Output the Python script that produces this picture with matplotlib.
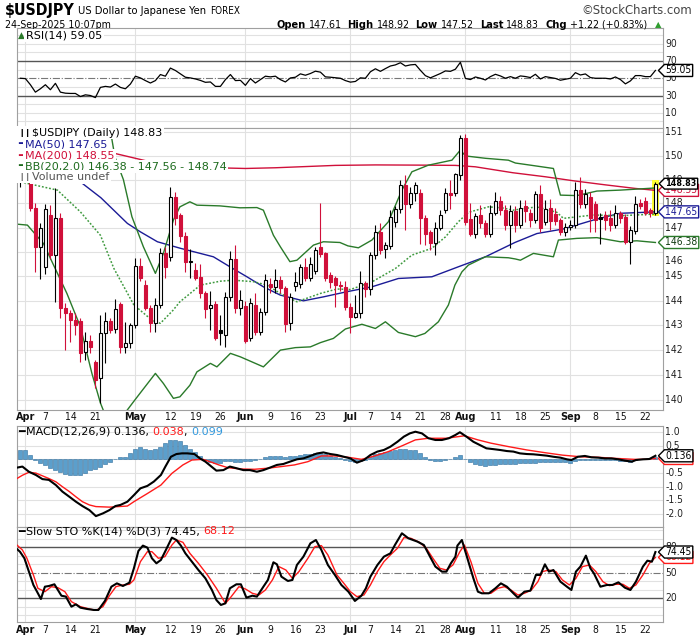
import os
import numpy as np
import pandas as pd
import matplotlib
matplotlib.use('Agg')
import matplotlib.pyplot as plt
from matplotlib.path import Path
from matplotlib import font_manager
from matplotlib.font_manager import FontProperties
import matplotlib.transforms as mtransforms

# ------------------------------------------------------------------ data
days = pd.bdate_range('2025-03-31', '2025-09-24')   # trading days, day -1 = Mar 31
day_num = np.arange(len(days)) - 1

opens = [149.50, 149.90, 149.30, 147.83, 146.21, 145.38, 147.51, 145.86, 147.38, 143.71,
         143.48, 143.21, 143.17, 141.91, 142.36, 141.53, 140.87, 142.67, 143.17, 142.85,
         143.86, 142.13, 142.27, 143.01, 145.42, 144.63, 143.71, 143.08, 143.84, 145.93,
         145.79, 148.28, 147.50, 146.64, 145.58, 145.25, 144.96, 144.29, 143.68, 143.86,
         142.79, 142.59, 144.13, 145.70, 143.71, 143.78, 142.50, 143.82, 142.72, 143.52,
         144.68, 144.56, 144.84, 144.50, 143.08, 144.60, 144.68, 145.38, 144.93, 145.21,
         146.21, 145.93, 145.05, 144.90, 144.62, 144.55, 143.75, 143.35, 143.48, 144.70,
         144.47, 145.86, 146.82, 146.11, 146.22, 147.24, 147.75, 148.77, 147.96, 148.42,
         148.42, 147.38, 146.80, 146.34, 146.99, 147.72, 148.44, 148.42, 149.19, 150.77,
         147.34, 146.75, 147.51, 147.17, 146.75, 147.62, 148.11, 147.72, 147.10, 147.68,
         147.10, 147.89, 147.60, 147.31, 148.38, 147.24, 147.82, 147.58, 147.30, 146.82,
         147.01, 147.10, 148.56, 147.97, 148.28, 147.97, 147.42, 147.50, 147.40, 147.10,
         147.62, 147.45, 146.40, 146.85, 148.00, 148.10, 147.72, 147.61]
highs = [150.00, 150.00, 149.50, 148.00, 147.20, 147.97, 147.95, 148.63, 147.60, 143.90,
         143.60, 143.50, 143.30, 142.74, 142.60, 141.60, 143.40, 143.55, 143.30, 144.06,
         143.95, 143.15, 143.10, 145.72, 145.72, 144.85, 143.80, 144.10, 146.16, 146.20,
         148.70, 148.50, 147.60, 146.80, 146.11, 145.52, 145.48, 144.40, 144.40, 144.00,
         143.40, 144.35, 146.03, 146.27, 144.43, 144.00, 144.09, 144.29, 143.70, 145.08,
         144.90, 145.29, 145.00, 144.60, 144.30, 145.18, 145.50, 145.72, 145.80, 146.21,
         148.00, 146.00, 145.18, 145.00, 144.80, 144.80, 143.90, 144.24, 145.22, 144.80,
         146.00, 147.12, 147.17, 146.40, 147.72, 147.90, 148.98, 149.19, 148.70, 148.90,
         148.60, 147.50, 146.90, 147.24, 147.72, 148.65, 148.98, 149.30, 150.89, 150.92,
         148.04, 147.60, 147.93, 147.30, 147.93, 148.49, 148.30, 147.93, 147.93, 147.90,
         148.14, 148.14, 147.79, 148.52, 148.77, 148.14, 148.18, 147.80, 147.40, 147.20,
         147.30, 148.91, 149.12, 148.60, 148.49, 148.10, 147.60, 147.70, 147.72, 147.95,
         147.70, 147.55, 147.05, 148.30, 148.20, 148.28, 147.80, 148.92]
lows = [148.70, 149.10, 147.68, 145.18, 144.88, 145.10, 145.70, 143.95, 143.28, 142.00,
        142.33, 142.60, 141.53, 141.60, 141.90, 140.47, 139.88, 141.50, 142.70, 142.70,
        141.87, 141.87, 142.10, 142.90, 144.80, 143.60, 142.74, 142.74, 143.70, 144.90,
        145.60, 147.10, 146.40, 145.18, 144.90, 144.85, 144.09, 143.28, 142.81, 142.40,
        142.20, 142.13, 144.00, 143.50, 143.41, 142.30, 142.35, 142.60, 142.60, 143.40,
        144.29, 144.30, 144.30, 142.74, 142.80, 144.40, 144.50, 144.80, 144.80, 145.10,
        145.80, 144.80, 144.50, 143.75, 144.40, 143.60, 142.67, 143.28, 143.30, 144.16,
        144.24, 145.70, 145.90, 145.72, 146.10, 147.03, 147.60, 146.89, 147.80, 148.10,
        146.30, 146.27, 146.07, 145.86, 146.90, 147.60, 147.79, 148.30, 149.00, 147.10,
        146.64, 146.55, 147.00, 146.60, 146.60, 147.50, 147.50, 146.90, 146.16, 146.82,
        147.00, 147.24, 147.03, 147.20, 146.82, 147.10, 146.90, 147.10, 146.68, 146.65,
        146.90, 147.00, 147.80, 147.80, 146.82, 146.82, 146.30, 146.90, 146.85, 147.00,
        147.20, 146.30, 145.50, 146.75, 147.75, 147.50, 147.45, 147.52]
closes = [149.90, 149.60, 147.82, 146.21, 146.96, 147.76, 145.86, 147.38, 143.71, 143.48,
          143.21, 143.01, 141.87, 142.36, 142.13, 140.80, 142.67, 143.17, 142.81, 143.66,
          142.13, 142.27, 143.01, 145.42, 144.90, 143.71, 143.08, 143.84, 145.93, 145.38,
          148.28, 147.38, 146.63, 145.56, 145.60, 144.93, 144.29, 143.66, 143.84, 142.50,
          142.67, 144.13, 145.70, 143.71, 144.02, 142.36, 143.91, 142.72, 143.52, 144.84,
          144.55, 144.85, 144.50, 143.05, 144.13, 144.75, 145.38, 144.93, 145.48, 146.07,
          145.89, 144.90, 144.75, 144.65, 144.58, 143.75, 143.35, 143.48, 144.70, 144.47,
          145.86, 146.82, 146.07, 146.27, 147.44, 147.75, 148.77, 147.96, 148.42, 148.77,
          147.38, 146.75, 146.34, 146.99, 147.54, 148.42, 148.35, 149.22, 150.77, 147.24,
          146.75, 147.49, 147.17, 146.75, 147.62, 148.11, 147.72, 147.10, 147.68, 147.10,
          147.83, 147.68, 147.31, 148.38, 146.96, 147.79, 147.28, 147.26, 146.82, 147.03,
          147.12, 148.56, 147.97, 148.38, 147.40, 147.33, 147.36, 147.30, 147.10, 147.62,
          147.38, 146.42, 146.90, 147.96, 147.88, 147.62, 147.61, 148.83]

ma50_day = [-1.5, 3, 7, 11.4, 15.1, 20.4, 23, 26.4, 31, 37.6, 40.9, 44.3, 47.6, 51, 55.6,
            59.6, 64.3, 69.3, 74.6, 81.3, 86.6, 92, 97.9, 102.3, 107.6, 113.6, 118.9, 126]
ma50_val = [151.25, 150.6, 149.8, 148.84, 148.24, 147.17, 146.82, 146.41, 146.14, 145.79,
            145.38, 144.97, 144.56, 144.22, 143.99, 144.15, 144.36, 144.56, 144.9, 144.97,
            145.38, 145.79, 146.38, 146.75, 146.94, 147.31, 147.59, 147.65]

ma200_day = [-1.7, 4.6, 10, 13.7, 18, 24.4, 31, 38, 44, 50, 56, 62, 70, 80, 86, 90, 97.5,
             104, 110, 116, 122, 126]
ma200_val = [151.9, 151.2, 150.75, 150.39, 150.1, 149.78, 149.68, 149.5, 149.47, 149.5,
             149.55, 149.6, 149.62, 149.61, 149.6, 149.54, 149.29, 149.12, 148.94, 148.78,
             148.63, 148.55]

bbu_day = [-1.7, 2, 6, 10, 14, 16, 16.9, 17.9, 19.6, 21.3, 23.6, 26, 27.6, 29.6, 30.9, 32.9,
           34.3, 38.9, 42.9, 46.3, 47.6, 49.6, 51, 52.9, 54.3, 57.6, 59.6, 62.9, 64.5, 66.6,
           69.3, 72.6, 75.3, 77.3, 80.6, 85.3, 87, 88, 92, 96.6, 98, 101, 105.6, 107, 110.3,
           114.3, 119, 126]
bbu_val = [150.9, 151.4, 152.3, 153.0, 153.0, 152.0, 151.2, 149.96, 149.0, 147.45, 146.2,
           145.11, 145.93, 147.31, 147.86, 148.07, 147.93, 147.9, 147.82, 147.83, 147.72,
           146.68, 146.2, 145.59, 145.65, 146.27, 146.41, 146.38, 146.24, 146.16, 146.48,
           147.24, 148.56, 149.33, 149.61, 149.82, 150.25, 150.0, 149.9, 149.82, 149.7,
           149.61, 149.47, 148.35, 148.33, 148.52, 148.56, 148.65]

bbm_day = [-1.7, 0.4, 6.4, 11, 15, 17.7, 21.7, 25.7, 27, 29.5, 30.9, 35, 39, 41.6, 45.6, 48.3,
           51, 54.3, 59, 62.3, 65, 69.3, 74, 77.3, 81.3, 84, 86.6, 88.6, 92.6, 95.3, 97.5,
           102.3, 106.3, 107.6, 113.6, 119, 126]
bbm_val = [148.95, 148.84, 148.56, 147.65, 146.68, 145.31, 143.82, 143.14, 143.08, 143.6,
           143.95, 144.63, 144.79, 144.83, 144.77, 144.63, 144.29, 143.95, 144.29, 144.47,
           144.45, 144.76, 145.31, 145.86, 146.14, 146.61, 147.24, 147.63, 147.86, 147.82,
           147.72, 147.86, 147.63, 147.38, 147.52, 147.49, 147.56]

bbl_day = [-1.7, 0.4, 3.6, 8.3, 11, 13.3, 15, 16, 17.5, 19, 20.3, 21.6, 23, 26, 27.6, 29.6,
           30.9, 32.9, 34.3, 37, 38.3, 41, 43, 47.6, 51, 54, 57, 59, 61.6, 64, 67.3, 70, 72,
           74.6, 78, 79.9, 82.6, 84.6, 85.9, 87.3, 88.6, 92, 96.6, 98, 99, 101.6, 105.6,
           106.6, 110.3, 114.3, 119, 122.3, 126]
bbl_val = [147.14, 147.1, 146.34, 144.29, 142.94, 141.07, 139.9, 139.4, 139.1, 139.3, 139.6,
           139.94, 140.3, 141.07, 140.67, 140.08, 140.14, 140.6, 141.13, 141.47, 141.33,
           141.87, 141.73, 141.33, 142.0, 142.1, 142.13, 142.3, 142.47, 142.85, 143.04,
           142.87, 143.14, 142.71, 142.54, 142.67, 143.14, 143.82, 144.63, 145.17, 145.45,
           145.79, 145.75, 145.7, 145.65, 145.93, 145.79, 146.48, 146.55, 146.58, 146.41,
           146.45, 146.38]

rsi_val = [50.0, 49.6, 42.5, 33.9, 37.8, 42.5, 36.7, 44.1, 33.9, 32.7, 32.4, 32.4, 28.8, 30.8,
           30.0, 27.6, 39.4, 40.6, 39.8, 43.3, 39.4, 37.8, 43.3, 52.4, 50.4, 47.3, 44.5, 47.3,
           54.3, 52.4, 61.8, 59.0, 55.1, 51.2, 50.4, 49.2, 47.5, 45.3, 45.7, 40.6, 40.6, 48.4,
           54.3, 47.3, 47.6, 41.8, 49.6, 44.5, 48.4, 52.4, 51.6, 52.4, 48.4, 45.7, 50.4, 51.2,
           55.1, 53.5, 55.5, 58.2, 57.1, 51.6, 51.2, 50.6, 50.0, 47.3, 45.5, 46.3, 50.5, 50.0,
           57.5, 61.0, 58.0, 61.2, 64.2, 65.5, 68.0, 64.2, 65.5, 66.0, 59.2, 53.0, 50.5, 53.0,
           55.5, 58.5, 58.0, 60.5, 68.5, 49.8, 48.5, 51.5, 50.0, 48.0, 51.9, 54.6, 52.7, 50.0,
           51.9, 50.0, 52.7, 52.0, 50.8, 54.6, 49.2, 51.9, 50.8, 49.8, 47.7, 48.9, 50.0, 56.5,
           53.8, 55.0, 50.8, 50.0, 50.0, 50.0, 49.2, 51.5, 48.5, 43.5, 46.9, 53.1, 53.1, 51.9,
           51.9, 59.05]

macd_day = [-1.7, -0.6, 0.7, 2.1, 3.4, 4.7, 6.1, 7.4, 8.8, 10.1, 11.4, 12.8, 14.1, 15.5, 16.8,
            18.0, 19.0, 20.4, 21.7, 23.0, 24.4, 25.7, 27.1, 28.0, 29.1, 30.2, 31.3, 32.4,
            33.8, 34.9, 36.0, 37.2, 38.2, 39.6, 40.9, 42.2, 43.6, 44.9, 46.3, 47.6, 48.9,
            50.3, 51.6, 52.9, 54.3, 55.6, 57.0, 58.3, 59.6, 61.0, 62.3, 63.7, 65.0, 66.3,
            67.7, 69.0, 70.4, 71.7, 73.0, 74.4, 75.7, 76.9, 78.0, 79.3, 80.6, 82.0, 83.3,
            84.7, 86.0, 86.9, 88.2, 89.6, 90.9, 92.2, 93.6, 94.9, 96.3, 97.6, 98.9, 100.3,
            101.6, 103.0, 104.3, 105.6, 107.0, 108.3, 109.2, 110.5, 111.9, 113.2, 114.6,
            115.9, 117.2, 118.6, 119.9, 121.3, 122.1, 123.5, 124.8, 126.0]
macd_val = [-0.30, -0.26, -0.45, -0.57, -0.72, -0.75, -0.94, -1.18, -1.37, -1.55, -1.71,
            -1.86, -2.08, -1.98, -1.86, -1.71, -1.67, -1.55, -1.31, -1.06, -0.97, -0.81,
            -0.57, -0.26, 0.10, 0.20, 0.225, 0.225, 0.20, 0.04, -0.08, -0.26, -0.41, -0.39,
            -0.26, -0.32, -0.39, -0.39, -0.45, -0.39, -0.30, -0.20, -0.165, -0.08, 0.006,
            0.04, 0.13, 0.22, 0.26, 0.20, 0.165, 0.10, 0.04, -0.117, -0.02, 0.165, 0.29,
            0.35, 0.47, 0.65, 0.84, 0.96, 1.02, 0.96, 0.78, 0.716, 0.716, 0.78, 0.90, 1.0,
            0.84, 0.65, 0.53, 0.41, 0.38, 0.35, 0.31, 0.29, 0.225, 0.20, 0.19, 0.165, 0.14,
            0.10, 0.067, 0.006, -0.02, 0.10, 0.13, 0.08, 0.067, 0.04, 0.04, 0.006, -0.043,
            -0.08, -0.02, 0.006, 0.018, 0.136]

sig_day = [-1.7, -0.6, 0.7, 2.1, 3.4, 4.7, 6.1, 7.4, 8.8, 10.1, 11.4, 12.8, 14.1, 16.8, 20.4,
           21.7, 24.4, 27.1, 29.3, 31.5, 33.3, 35.5, 36.9, 38.7, 40.5, 43.1, 45.8, 48.5,
           51.2, 53.8, 56.5, 59.2, 61.9, 64.6, 67.2, 69.9, 72.6, 75.3, 78.0, 80.6, 84.2,
           87.8, 90.5, 93.1, 96.7, 100.3, 103.9, 107.4, 111.0, 114.6, 118.1, 121.7, 124.4,
           126.0]
sig_val = [-0.70, -0.58, -0.47, -0.50, -0.60, -0.70, -0.82, -1.00, -1.18, -1.37, -1.55,
           -1.67, -1.73, -1.75, -1.71, -1.55, -1.25, -0.94, -0.51, -0.20, -0.02, 0.006, -0.08,
           -0.20, -0.30, -0.35, -0.36, -0.32, -0.26, -0.20, -0.08, 0.13, 0.13, 0.08, 0.006,
           0.13, 0.29, 0.50, 0.72, 0.78, 0.78, 0.87, 0.72, 0.60, 0.47, 0.35, 0.25, 0.16, 0.10,
           0.08, 0.04, 0.006, 0.006, 0.038]

hist_val = [0.36, 0.34, 0.17, -0.02, -0.14, -0.21, -0.30, -0.39, -0.47, -0.52, -0.56, -0.57,
            -0.56, -0.48, -0.40, -0.34, -0.26, -0.17, -0.08, 0.03, 0.08, 0.10, 0.25, 0.40,
            0.45, 0.39, 0.35, 0.40, 0.47, 0.59, 0.70, 0.72, 0.67, 0.53, 0.40, 0.26, 0.13,
            -0.01, -0.08, -0.14, -0.12, -0.07, -0.04, -0.08, -0.08, -0.07, -0.04, -0.02, 0.03,
            0.09, 0.12, 0.13, 0.13, 0.10, 0.12, 0.13, 0.17, 0.19, 0.21, 0.25, 0.24, 0.19,
            0.13, 0.09, 0.04, -0.01, -0.04, -0.08, -0.07, -0.01, 0.10, 0.21, 0.23, 0.26, 0.30,
            0.35, 0.37, 0.37, 0.36, 0.34, 0.25, 0.10, -0.01, -0.04, -0.04, -0.03, 0.02, 0.10,
            0.17, 0.03, -0.09, -0.17, -0.20, -0.23, -0.21, -0.19, -0.18, -0.17, -0.17, -0.15,
            -0.14, -0.14, -0.13, -0.12, -0.10, -0.08, -0.08, -0.08, -0.09, -0.10, -0.12, -0.06,
            -0.02, -0.02, -0.01, -0.01, -0.02, -0.02, -0.02, -0.03, -0.04, -0.07, -0.08, -0.03,
            0.01, 0.02, 0.03, 0.099]

stok_day = [-1.7, -1.1, -0.2, 0.7, 1.6, 2.5, 3.1, 3.9, 4.7, 5.8, 7.2, 8.1, 9.2, 10.1, 11.0,
            12.3, 13.7, 14.6, 15.9, 17.2, 18.3, 19.5, 20.8, 21.7, 22.6, 23.5, 24.4, 25.3,
            26.2, 27.1, 28.1, 29.3, 30.2, 31.1, 32.0, 33.3, 34.6, 36.0, 37.3, 38.2, 39.1,
            40.0, 40.9, 42.2, 43.1, 44.2, 45.4, 46.3, 47.6, 48.5, 49.6, 50.3, 51.2, 52.5,
            53.4, 54.3, 55.6, 57.0, 58.1, 59.2, 60.5, 61.9, 63.2, 64.6, 65.9, 67.2, 68.1,
            69.0, 70.4, 71.7, 73.0, 73.9, 75.3, 76.6, 78.4, 79.7, 81.1, 82.0, 83.3, 84.2,
            85.1, 86.0, 86.4, 87.3, 88.2, 89.6, 90.5, 91.3, 92.7, 94.0, 95.1, 96.3, 97.6,
            98.5, 99.8, 101.0, 102.1, 103.0, 103.9, 104.7, 105.6, 107.0, 108.3, 109.2, 110.1,
            111.0, 112.1, 113.0, 113.7, 115.0, 116.3, 117.4, 118.6, 119.9, 121.0, 122.1,
            123.5, 124.4, 125.3, 126.0]
stok_val = [78.0, 74.9, 67.1, 51.4, 35.7, 25.9, 19.2, 33.7, 34.5, 36.5, 23.1, 22.0, 10.2,
            12.9, 9.0, 7.5, 6.3, 6.3, 16.9, 33.7, 37.6, 34.5, 38.4, 55.3, 75.7, 82.0, 79.6,
            67.1, 61.2, 65.1, 76.9, 91.4, 88.6, 82.0, 72.9, 63.1, 53.3, 43.5, 29.8, 18.0,
            12.2, 14.1, 31.8, 36.5, 36.5, 20.8, 23.1, 22.0, 33.7, 41.6, 62.4, 60.0, 45.5,
            40.4, 41.6, 59.2, 69.0, 84.7, 88.6, 76.9, 59.2, 47.5, 35.7, 27.8, 16.9, 23.1,
            31.8, 45.5, 59.2, 69.0, 72.9, 82.7, 96.5, 90.6, 86.7, 82.7, 67.1, 57.3, 51.4,
            51.4, 61.2, 69.0, 82.0, 88.6, 71.0, 43.5, 27.8, 25.9, 25.9, 31.8, 37.6, 33.7,
            25.9, 20.8, 27.8, 29.0, 47.5, 47.5, 60.0, 51.4, 53.3, 39.6, 33.7, 29.8, 51.4,
            57.3, 70.2, 55.3, 49.4, 33.7, 35.7, 35.7, 38.8, 32.5, 29.8, 39.6, 57.3, 64.3,
            63.1, 74.45]

stod_day = [-1.7, -0.6, 0.3, 1.6, 2.5, 3.9, 5.2, 6.5, 7.9, 9.2, 11.0, 12.8, 14.1, 15.5, 16.8,
            18.1, 19.5, 20.8, 21.7, 23.0, 24.4, 25.3, 26.6, 27.9, 29.3, 30.2, 31.5, 32.9,
            34.6, 36.4, 38.2, 40.0, 40.9, 42.7, 44.0, 45.4, 46.7, 48.0, 49.4, 50.7, 52.1,
            53.4, 54.7, 56.5, 57.9, 59.2, 60.5, 62.3, 63.7, 65.0, 66.3, 67.7, 69.0, 70.4,
            71.7, 73.0, 74.4, 75.7, 77.1, 78.8, 80.2, 81.5, 82.9, 84.2, 85.5, 86.9, 87.8,
            89.1, 90.5, 91.8, 93.1, 94.5, 95.8, 97.1, 98.5, 99.8, 101.2, 102.5, 103.4, 104.7,
            106.1, 107.4, 108.8, 110.1, 111.4, 112.8, 114.1, 115.5, 116.8, 118.1, 119.5,
            120.8, 122.1, 123.5, 124.8, 126.0]
stod_val = [82.7, 76.9, 67.1, 47.5, 31.8, 27.8, 33.7, 32.5, 27.8, 16.1, 10.2, 7.5, 5.9, 10.2,
            23.1, 33.7, 35.7, 36.5, 41.6, 63.1, 74.9, 74.9, 67.1, 69.0, 82.7, 88.6, 85.9,
            72.9, 61.2, 47.5, 31.8, 14.1, 20.0, 33.7, 31.0, 25.9, 23.9, 29.8, 41.6, 57.3,
            53.3, 43.5, 51.4, 67.1, 80.8, 82.0, 71.0, 47.5, 37.6, 27.8, 22.0, 23.9, 35.7,
            51.4, 63.1, 71.0, 78.8, 91.4, 90.6, 85.9, 78.8, 67.1, 55.3, 53.3, 59.2, 74.9,
            82.7, 63.1, 37.6, 25.9, 25.9, 31.8, 33.7, 29.8, 23.9, 25.9, 29.8, 39.6, 51.4,
            53.3, 51.4, 41.6, 35.7, 43.5, 57.3, 59.2, 51.4, 39.6, 34.9, 36.5, 36.5, 31.8,
            35.7, 47.5, 61.2, 68.12]

price_ticks = [140, 141, 142, 143, 144, 145, 146, 147, 148, 149, 150, 151]
rsi_ticks = [90, 70, 50, 30, 10]
macd_ticks = [1.0, 0.5, -0.5, -1.0, -1.5, -2.0]
sto_ticks = [80, 50, 20]

# ------------------------------------------------------------------ fonts
_paths = set(f.fname for f in font_manager.fontManager.ttflist)
try:
    _paths |= set(font_manager.findSystemFonts())
except Exception:
    pass
_byname = {os.path.basename(p).lower(): p for p in _paths}
NARROW_REG = NARROW_BOLD = None
for reg, bld in (('liberationsansnarrow-regular.ttf', 'liberationsansnarrow-bold.ttf'),
                 ('dejavusanscondensed.ttf', 'dejavusanscondensed-bold.ttf'),
                 ('robotocondensed-regular.ttf', 'robotocondensed-bold.ttf'),
                 ('notosans-condensed.ttf', 'notosans-condensedbold.ttf'),
                 ('opensans-condensedregular.ttf', 'opensans-condensedbold.ttf')):
    if reg in _byname:
        NARROW_REG = _byname[reg]
        NARROW_BOLD = _byname.get(bld, NARROW_REG)
        break
_names = {f.name for f in font_manager.fontManager.ttflist}
FALLBACK = 'Liberation Sans' if 'Liberation Sans' in _names else 'DejaVu Sans'
WIDE = 'DejaVu Sans'


def nf(size, bold=False):
    if NARROW_REG:
        return FontProperties(fname=NARROW_BOLD if bold else NARROW_REG, size=size)
    return FontProperties(family=FALLBACK, weight='bold' if bold else 'normal', size=size)


RED = '#d0103a'
NAVY = '#1b1b96'
GREEN = '#2a7a2a'
GRID = '#e1e1e1'
SPINE = '#a0a0a0'

W, H = 700, 639
fig = plt.figure(figsize=(7.0, 6.39), dpi=100)
fig.patch.set_facecolor('white')
renderer = fig.canvas.get_renderer()


def fit(text, target_px, bold=False, nominal=9.0, lo=0.86, hi=1.12):
    t = fig.text(0, 0, text, fontproperties=nf(nominal, bold))
    w = t.get_window_extent(renderer=renderer).width
    t.remove()
    s = nominal * target_px / max(w, 1.0)
    return float(np.clip(s, lo * nominal, hi * nominal))


L_PX, R_PX = 16.7, 662.7
XMIN, XMAX = -1.74, 127.46


def make_ax(top, bottom):
    ax = fig.add_axes([L_PX / W, 1 - bottom / H, (R_PX - L_PX) / W, (bottom - top) / H])
    ax.set_xlim(XMIN, XMAX)
    ax.set_xticks([])
    ax.set_yticks([])
    for s in ax.spines.values():
        s.set_color(SPINE)
        s.set_linewidth(0.8)
    return ax


ax_r = make_ax(28.3, 127.7)
ax_p = make_ax(127.7, 410.0)
ax_m = make_ax(426.0, 527.0)
ax_s = make_ax(527.0, 621.7)

ax_r.set_ylim(-7.3, 107.9)
ax_p.set_yscale('log')
ax_p.set_ylim(139.62, 151.2)
ax_p.yaxis.set_major_locator(matplotlib.ticker.NullLocator())
ax_p.yaxis.set_minor_locator(matplotlib.ticker.NullLocator())
ax_m.set_ylim(-2.48, 1.23)
ax_s.set_ylim(-7.5, 103.9)

month_start = [0] + [day_num[k] for k in range(1, len(days))
                     if days[k].month != days[k - 1].month and day_num[k] > 0]

# grid
for ax in (ax_r, ax_p, ax_m, ax_s):
    for m in month_start:
        ax.axvline(m, color=GRID, lw=0.8, zorder=0)
for v in range(0, 101, 10):
    if v not in (30, 50, 70):
        ax_r.axhline(v, color=GRID, lw=0.8, zorder=0)
    if v not in (20, 50, 80):
        ax_s.axhline(v, color=GRID, lw=0.8, zorder=0)
for v in price_ticks:
    ax_p.axhline(v, color=GRID, lw=0.8, zorder=0)
for v in np.arange(-2.0, 1.01, 0.5):
    ax_m.axhline(v, color=GRID, lw=0.8, zorder=0)
for ax, lo, hi in ((ax_r, 30, 70), (ax_s, 20, 80)):
    ax.axhline(hi, color='#555555', lw=1.0, zorder=1)
    ax.axhline(lo, color='#555555', lw=1.0, zorder=1)
    ax.axhline(50, color='#777777', lw=0.8, ls='-.', zorder=1)

# ------------------------------------------------------------------ price panel
x = day_num
o = np.array(opens); h = np.array(highs); l = np.array(lows); c = np.array(closes)
prev = np.concatenate([[o[0]], c[:-1]])
col = np.where(c < prev, RED, 'black')
fill = np.where(c < o, col, 'white')

ax_p.bar(x[-1], h[-1] - l[-1] + 0.12, bottom=l[-1] - 0.06, width=1.25,
         color='#ffff33', zorder=1.5, linewidth=0)

ax_p.plot(ma200_day, ma200_val, color=RED, lw=1.0, zorder=2)
ax_p.plot(ma50_day, ma50_val, color=NAVY, lw=1.0, zorder=2)
ax_p.plot(bbu_day, bbu_val, color=GREEN, lw=1.0, zorder=2)
ax_p.plot(bbl_day, bbl_val, color=GREEN, lw=1.0, zorder=2)
ax_p.plot(bbm_day, bbm_val, color='#3f9a3f', lw=1.1, ls=(0, (1.2, 1.2)), zorder=2)

ax_p.vlines(x, l, h, colors=col, lw=0.8, zorder=3)
body_lo = np.minimum(o, c)
body_h = np.maximum(np.abs(c - o), 0.025)
ax_p.bar(x, body_h, bottom=body_lo, width=0.58, color=fill, edgecolor=col,
         linewidth=0.8, zorder=4)

# ------------------------------------------------------------------ RSI
ax_r.plot(day_num, rsi_val, color='black', lw=0.9, zorder=3)

# ------------------------------------------------------------------ MACD
ax_m.bar(day_num, hist_val, width=0.8, color='#5b9fcc', edgecolor='#2f6e9c', linewidth=0.4,
         zorder=2)
ax_m.plot(sig_day, sig_val, color='#ff1a1a', lw=1.0, zorder=3)
ax_m.plot(macd_day, macd_val, color='black', lw=1.5, zorder=4)

# ------------------------------------------------------------------ STO
ax_s.plot(stod_day, stod_val, color='#ff1a1a', lw=1.0, zorder=3)
ax_s.plot(stok_day, stok_val, color='black', lw=1.5, zorder=4)

# ------------------------------------------------------------------ axis labels (right)
AX_FS = fit('148', 15.0, nominal=8.6)


def right_labels(ax, vals, fmt, shift=None):
    tr = ax.get_yaxis_transform()
    for v in vals:
        t = tr
        if shift and v in shift:
            t = mtransforms.offset_copy(tr, fig=fig, y=shift[v], units='dots')
        ax.text((665.5 - L_PX) / (R_PX - L_PX), v, fmt(v), transform=t, ha='left',
                va='center', fontproperties=nf(AX_FS), color='#222222', zorder=5,
                clip_on=False)

right_labels(ax_r, rsi_ticks, lambda v: f'{v:d}')
right_labels(ax_p, price_ticks, lambda v: f'{v:d}', shift={146: -9})
right_labels(ax_m, macd_ticks, lambda v: f'{v:.1f}')
right_labels(ax_s, sto_ticks, lambda v: f'{v:d}')


def tag_style(x0, y0, width, height, mutation_size):
    pad = 0.1 * mutation_size
    x0 -= pad; y0 -= pad
    w = width + 2 * pad; hh = height + 2 * pad
    tip = hh * 0.5
    verts = [(x0, y0), (x0 + w, y0), (x0 + w, y0 + hh), (x0, y0 + hh),
             (x0 - tip, y0 + hh / 2), (x0, y0)]
    codes = [Path.MOVETO] + [Path.LINETO] * 4 + [Path.CLOSEPOLY]
    return Path(verts, codes)


TAG_FS = AX_FS


def tag(ax, v, s, ec, tc='black', bold=False):
    size = TAG_FS * (0.88 if bold else 1.0)
    ax.text((665.5 - L_PX) / (R_PX - L_PX), v, s, transform=ax.get_yaxis_transform(),
            ha='left', va='center', fontproperties=nf(size, bold), color=tc,
            zorder=8, clip_on=False,
            bbox=dict(boxstyle=tag_style, fc='white', ec=ec, lw=1.0))

tag(ax_r, rsi_val[-1], f'{rsi_val[-1]:.2f}', 'black')
tag(ax_p, bbl_val[-1], f'{bbl_val[-1]:.2f}', GREEN, '#103a10')
tag(ax_p, ma50_val[-1], f'{ma50_val[-1]:.2f}', NAVY, NAVY)
tag(ax_p, ma200_val[-1], f'{ma200_val[-1]:.2f}', RED, RED)
tag(ax_p, closes[-1], f'{closes[-1]:.2f}', 'black', 'black', bold=True)
tag(ax_m, sig_val[-1], f'{sig_val[-1]:.3f}', '#ff1a1a', '#ff1a1a')
tag(ax_m, macd_val[-1], f'{macd_val[-1]:.3f}', 'black')
tag(ax_s, stod_val[-1], f'{stod_val[-1]:.2f}', '#ff1a1a', '#ff1a1a')
tag(ax_s, stok_val[-1], f'{stok_val[-1]:.2f}', 'black')

# ------------------------------------------------------------------ date labels
lab_day, lab_txt, lab_bold = [], [], []
for k in range(1, len(days)):
    d = day_num[k]
    if days[k].month != days[k - 1].month:
        lab_day.append(d); lab_txt.append(days[k].strftime('%b')); lab_bold.append(True)
    elif days[k].weekday() == 0 and min(abs(d - m) for m in month_start) > 3:
        lab_day.append(d); lab_txt.append(str(days[k].day)); lab_bold.append(False)

MON_FS = fit('May', 22.0, bold=True, nominal=9.0)
NUM_FS = fit('14', 10.0, nominal=8.6)
for ypx in (416.5, 630.0):
    for d, s, b in zip(lab_day, lab_txt, lab_bold):
        fig.text((L_PX + (d - XMIN) / (XMAX - XMIN) * (R_PX - L_PX)) / W, 1 - ypx / H, s,
                 ha='center', va='center', fontproperties=nf(MON_FS if b else NUM_FS, b),
                 color='#111111')

# ------------------------------------------------------------------ text helpers
def rich(parts, xpx, ypx, ha='left'):
    arts, widths = [], []
    for s, kw, gap in parts:
        t = fig.text(0, 0, s, va='center', ha='left', **kw)
        bb = t.get_window_extent(renderer=renderer)
        arts.append(t); widths.append(bb.width + gap)
    total = sum(widths)
    cur = xpx if ha == 'left' else xpx - total
    for t, wdt in zip(arts, widths):
        t.set_position((cur / W, 1 - ypx / H))
        cur += wdt
    return arts


LEG_FS = 8.0


def lg(color='black', size=LEG_FS, weight='normal', bg=True):
    kw = dict(color=color, fontsize=size, fontweight=weight, family=WIDE)
    if bg:
        kw['bbox'] = dict(fc='white', ec='none', pad=1.4)
    return kw


def hn(size, bold=False, color='black'):
    return dict(fontproperties=nf(size, bold), color=color)

# header
rich([('$USDJPY', hn(fit('$USDJPY', 70, True, 12.5), True), 3),
      ('US Dollar to Japanese Yen', hn(fit('US Dollar to Japanese Yen', 108, nominal=9.3)), 4),
      ('FOREX', hn(fit('FOREX', 26, nominal=8.3)), 0)], 5, 10.5)
rich([('24-Sep-2025 10:07pm', hn(fit('24-Sep-2025 10:07pm', 101, nominal=8.8)), 0)], 5, 24.5)
rich([('\u00a9StockCharts.com', hn(fit('\u00a9StockCharts.com', 111, nominal=8.8),
                                   color='#444444'), 0)], 692, 10.5, ha='right')

chg = closes[-1] - closes[-2]
hdr_pairs = [('Open', f'{opens[-1]:.2f}'), ('High', f'{highs[-1]:.2f}'),
             ('Low', f'{lows[-1]:.2f}'), ('Last', f'{closes[-1]:.2f}'),
             ('Chg', f'{chg:+.2f} ({chg / closes[-2] * 100:+.2f}%)')]
full = '  '.join(f'{a} {b}' for a, b in hdr_pairs)
hs = fit(full, 352, bold=True, nominal=9.2)
hdr = []
for lab, val in hdr_pairs:
    hdr.append((lab, hn(hs, True), 3))
    hdr.append((val, hn(hs * 0.96), 6))
rich(hdr, 653, 24.5, ha='right')
fig.text(658 / W, 1 - 24.5 / H, '\u25b2', fontsize=6, color='#2f9e2f', ha='center',
         va='center')

# panel legends
rich([('\u25b2', dict(fontsize=6.5, color=GREEN), 1),
      (f'RSI(14) {rsi_val[-1]:.2f}', lg('black'), 0)], 18, 35.5)
rich([('\u2759\u2759', lg('black', 5.5, 'bold'), 1),
      (f'$USDJPY (Daily) {closes[-1]:.2f}', lg('black'), 0)], 18, 132.6)
rich([('\u2501', lg(NAVY, LEG_FS, 'bold'), 0),
      (f'MA(50) {ma50_val[-1]:.2f}', lg(NAVY), 0)], 18, 144.3)
rich([('\u2501', lg(RED, LEG_FS, 'bold'), 0),
      (f'MA(200) {ma200_val[-1]:.2f}', lg(RED), 0)], 18, 155.5)
rich([('\u2501', lg('#1d6b1d', LEG_FS, 'bold'), 0),
      ('BB(20,2.0) 146.38 - 147.56 - 148.74', lg('#1d6b1d'), 0)], 18, 166.5)
rich([('\u2759\u2759', lg('#777777', 5.5, 'bold'), 1),
      ('Volume undef', lg('#555555'), 0)], 18, 176.9)
rich([('\u2501', lg('black', LEG_FS, 'bold', bg=False), 1),
      (f'MACD(12,26,9) {macd_val[-1]:.3f}, ', lg('black', bg=False), 0),
      (f'{sig_val[-1]:.3f}', lg('#ff1a1a', bg=False), 0),
      (', ', lg('black', bg=False), 0),
      (f'{hist_val[-1]:.3f}', lg('#3399dd', bg=False), 0)], 18, 432.0)
rich([('\u2501', lg('black', LEG_FS, 'bold', bg=False), 1),
      (f'Slow STO %K(14) %D(3) {stok_val[-1]:.2f}, ', lg('black', bg=False), 0),
      (f'{stod_val[-1]:.2f}', lg('#ff1a1a', bg=False), 0)], 18, 531.5)

fig.savefig('out.png', dpi=100, facecolor='white')
